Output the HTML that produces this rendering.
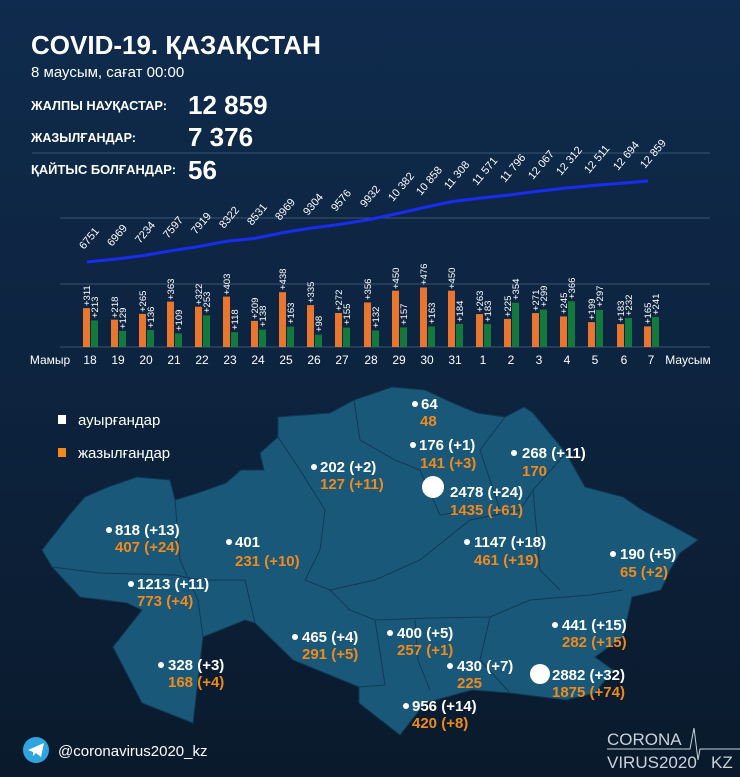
<!DOCTYPE html>
<html><head><meta charset="utf-8"><style>
html,body{margin:0;padding:0;width:740px;height:777px;overflow:hidden;background:#0c1d33;}
svg{display:block;font-family:"Liberation Sans","DejaVu Sans",sans-serif;}
</style></head><body>
<svg width="740" height="777" viewBox="0 0 740 777" xmlns="http://www.w3.org/2000/svg">
<defs>
<linearGradient id="bg" x1="0" y1="0" x2="0" y2="1">
<stop offset="0" stop-color="#0f2b4d"/><stop offset="0.45" stop-color="#0d2440"/><stop offset="1" stop-color="#0a1a2c"/>
</linearGradient>
</defs>
<rect width="740" height="777" fill="url(#bg)"/>
<!-- header -->
<text x="31" y="54" fill="#fff" font-size="26" font-weight="bold">COVID-19. ҚАЗАҚСТАН</text>
<text x="31" y="77" fill="#fff" font-size="15">8 маусым, сағат 00:00</text>
<g fill="#fff" font-size="13" font-weight="bold">
<text x="31" y="110" textLength="136" lengthAdjust="spacingAndGlyphs">ЖАЛПЫ НАУҚАСТАР:</text>
<text x="31" y="142" textLength="105" lengthAdjust="spacingAndGlyphs">ЖАЗЫЛҒАНДАР:</text>
<text x="31" y="174" textLength="145" lengthAdjust="spacingAndGlyphs">ҚАЙТЫС БОЛҒАНДАР:</text>
</g>
<g fill="#fff" font-size="26" font-weight="bold">
<text x="188" y="114">12 859</text>
<text x="188" y="146">7 376</text>
<text x="188" y="179">56</text>
</g>
<!-- grid -->
<g stroke="#3a5573" stroke-width="1">
<line x1="32" y1="153" x2="710" y2="153"/>
<line x1="60" y1="218" x2="710" y2="218"/>
<line x1="60" y1="284" x2="710" y2="284"/>
<line x1="60" y1="347" x2="710" y2="347"/>
</g>
<!-- line -->
<polyline fill="none" stroke="#1a2cf0" stroke-width="3" points="87,262 115,259.1 143,255.6 171,250.8 199,246.5 227,241.2 255,238.4 283,232.6 311,228.1 339,224.5 368,219.8 396,213.9 424,207.5 452,201.6 480,198.1 508,195.1 536,191.5 564,188.3 592,185.6 621,183.2 648,181"/>
<g fill="#fff" font-size="11">
<text transform="translate(84,250) rotate(-50)">6751</text>
<text transform="translate(112,247) rotate(-50)">6969</text>
<text transform="translate(140,244) rotate(-50)">7234</text>
<text transform="translate(168,239) rotate(-50)">7597</text>
<text transform="translate(196,235) rotate(-50)">7919</text>
<text transform="translate(224,229) rotate(-50)">8322</text>
<text transform="translate(252,226) rotate(-50)">8531</text>
<text transform="translate(280,221) rotate(-50)">8969</text>
<text transform="translate(308,216) rotate(-50)">9304</text>
<text transform="translate(336,212) rotate(-50)">9576</text>
<text transform="translate(365,208) rotate(-50)">9932</text>
<text transform="translate(393,202) rotate(-50)">10 382</text>
<text transform="translate(421,196) rotate(-50)">10 858</text>
<text transform="translate(449,190) rotate(-50)">11 308</text>
<text transform="translate(477,186) rotate(-50)">11 571</text>
<text transform="translate(505,183) rotate(-50)">11 796</text>
<text transform="translate(533,180) rotate(-50)">12 067</text>
<text transform="translate(561,176) rotate(-50)">12 312</text>
<text transform="translate(589,174) rotate(-50)">12 511</text>
<text transform="translate(618,171) rotate(-50)">12 694</text>
<text transform="translate(645,169) rotate(-50)">12 859</text>
</g>
<!-- bars -->
<g fill="#e8762f">
<rect x="83" y="308.1" width="7" height="38.9"/>
<rect x="111" y="319.7" width="7" height="27.3"/>
<rect x="139" y="313.9" width="7" height="33.1"/>
<rect x="167" y="301.6" width="7" height="45.4"/>
<rect x="195" y="306.7" width="7" height="40.3"/>
<rect x="223" y="296.6" width="7" height="50.4"/>
<rect x="251" y="320.9" width="7" height="26.1"/>
<rect x="279" y="292.2" width="7" height="54.8"/>
<rect x="307" y="305.1" width="7" height="41.9"/>
<rect x="335" y="313" width="7" height="34"/>
<rect x="364" y="302.5" width="7" height="44.5"/>
<rect x="392" y="290.7" width="7" height="56.3"/>
<rect x="420" y="287.5" width="7" height="59.5"/>
<rect x="448" y="290.7" width="7" height="56.3"/>
<rect x="476" y="314.1" width="7" height="32.9"/>
<rect x="504" y="318.9" width="7" height="28.1"/>
<rect x="532" y="313.1" width="7" height="33.9"/>
<rect x="560" y="316.4" width="7" height="30.6"/>
<rect x="588" y="322.1" width="7" height="24.9"/>
<rect x="617" y="324.1" width="7" height="22.9"/>
<rect x="644" y="326.4" width="7" height="20.6"/>
</g>
<g fill="#137a3f">
<rect x="91" y="320.4" width="7" height="26.6"/>
<rect x="119" y="330.9" width="7" height="16.1"/>
<rect x="147" y="330" width="7" height="17"/>
<rect x="175" y="333.4" width="7" height="13.6"/>
<rect x="203" y="315.4" width="7" height="31.6"/>
<rect x="231" y="332.2" width="7" height="14.8"/>
<rect x="259" y="329.7" width="7" height="17.3"/>
<rect x="287" y="326.6" width="7" height="20.4"/>
<rect x="315" y="334.7" width="7" height="12.3"/>
<rect x="343" y="327.6" width="7" height="19.4"/>
<rect x="372" y="330.5" width="7" height="16.5"/>
<rect x="400" y="327.4" width="7" height="19.6"/>
<rect x="428" y="326.6" width="7" height="20.4"/>
<rect x="456" y="324" width="7" height="23"/>
<rect x="484" y="324.1" width="7" height="22.9"/>
<rect x="512" y="302.7" width="7" height="44.3"/>
<rect x="540" y="309.6" width="7" height="37.4"/>
<rect x="568" y="301.2" width="7" height="45.8"/>
<rect x="596" y="309.9" width="7" height="37.1"/>
<rect x="625" y="318" width="7" height="29"/>
<rect x="652" y="316.9" width="7" height="30.1"/>
</g>
<g fill="#fff" font-size="9.5">
<text transform="translate(90,306) rotate(-90)">+311</text>
<text transform="translate(118,318) rotate(-90)">+218</text>
<text transform="translate(146,312) rotate(-90)">+265</text>
<text transform="translate(174,300) rotate(-90)">+363</text>
<text transform="translate(202,305) rotate(-90)">+322</text>
<text transform="translate(230,295) rotate(-90)">+403</text>
<text transform="translate(258,319) rotate(-90)">+209</text>
<text transform="translate(286,290) rotate(-90)">+438</text>
<text transform="translate(314,303) rotate(-90)">+335</text>
<text transform="translate(342,311) rotate(-90)">+272</text>
<text transform="translate(371,300) rotate(-90)">+356</text>
<text transform="translate(399,289) rotate(-90)">+450</text>
<text transform="translate(427,285) rotate(-90)">+476</text>
<text transform="translate(455,289) rotate(-90)">+450</text>
<text transform="translate(483,312) rotate(-90)">+263</text>
<text transform="translate(511,317) rotate(-90)">+225</text>
<text transform="translate(539,311) rotate(-90)">+271</text>
<text transform="translate(567,314) rotate(-90)">+245</text>
<text transform="translate(595,320) rotate(-90)">+199</text>
<text transform="translate(624,322) rotate(-90)">+183</text>
<text transform="translate(651,324) rotate(-90)">+165</text>
<text transform="translate(98,318) rotate(-90)">+213</text>
<text transform="translate(126,329) rotate(-90)">+129</text>
<text transform="translate(154,328) rotate(-90)">+136</text>
<text transform="translate(182,331) rotate(-90)">+109</text>
<text transform="translate(210,313) rotate(-90)">+253</text>
<text transform="translate(238,330) rotate(-90)">+118</text>
<text transform="translate(266,327) rotate(-90)">+138</text>
<text transform="translate(294,324) rotate(-90)">+163</text>
<text transform="translate(322,332) rotate(-90)">+98</text>
<text transform="translate(350,325) rotate(-90)">+155</text>
<text transform="translate(379,328) rotate(-90)">+132</text>
<text transform="translate(407,325) rotate(-90)">+157</text>
<text transform="translate(435,324) rotate(-90)">+163</text>
<text transform="translate(463,322) rotate(-90)">+184</text>
<text transform="translate(491,322) rotate(-90)">+183</text>
<text transform="translate(519,300) rotate(-90)">+354</text>
<text transform="translate(547,307) rotate(-90)">+299</text>
<text transform="translate(575,299) rotate(-90)">+366</text>
<text transform="translate(603,307) rotate(-90)">+297</text>
<text transform="translate(632,316) rotate(-90)">+232</text>
<text transform="translate(659,315) rotate(-90)">+241</text>
</g>
<g fill="#fff" font-size="12" text-anchor="middle">
<text x="50" y="364">Мамыр</text>
<text x="90" y="364">18</text><text x="118" y="364">19</text><text x="146" y="364">20</text>
<text x="174" y="364">21</text><text x="202" y="364">22</text><text x="230" y="364">23</text>
<text x="258" y="364">24</text><text x="286" y="364">25</text><text x="314" y="364">26</text>
<text x="342" y="364">27</text><text x="371" y="364">28</text><text x="399" y="364">29</text>
<text x="427" y="364">30</text><text x="455" y="364">31</text><text x="483" y="364">1</text>
<text x="511" y="364">2</text><text x="539" y="364">3</text><text x="567" y="364">4</text>
<text x="595" y="364">5</text><text x="624" y="364">6</text><text x="651" y="364">7</text>
<text x="688" y="364">Маусым</text>
</g>
<!-- map -->
<polygon fill="#1a5879" stroke="#0f3853" stroke-width="1" points="42,550 71,513 85,497 108,487 137,477 170,480 175,500 198,493 226,483 241,470 264,470 260,453 278,437 278,417 330,413 354,400 392,387 425,390 453,403 477,413 505,417 524,407 533,413 566,453 585,487 623,497 642,510 680,530 698,540 680,553 670,570 661,590 632,597 623,637 595,657 613,670 595,693 566,700 510,693 472,690 425,703 400,735 359,703 359,687 293,660 255,623 245,620 203,637 193,723 142,703 113,647 142,610 127,603 80,597 52,567"/>
<g fill="none" stroke="#0f3a56" stroke-width="1">
<polyline points="52,567 100,573 175,575 200,580 245,580 255,623"/>
<polyline points="175,500 180,560 198,600 203,637"/>
<polyline points="278,437 300,470 325,510 320,550 305,580 330,590 350,610 375,620 385,685 359,687"/>
<polyline points="330,590 375,580 420,560 470,520 520,510 533,490 566,453"/>
<polyline points="375,620 430,618 490,617 530,600 590,595 623,590"/>
<polyline points="415,620 418,660 430,690"/>
<polyline points="490,617 480,660 510,693"/>
<polyline points="354,400 360,440 395,460 420,470 440,515 470,510"/>
<polyline points="505,417 480,450 500,510"/>
<polyline points="533,490 540,570 560,590"/>
</g>
<!-- legend -->
<rect x="58" y="415" width="8" height="9" fill="#fff"/>
<rect x="58" y="448" width="8" height="9" fill="#f08a1c"/>
<text x="78" y="425" fill="#fff" font-size="15">ауырғандар</text>
<text x="78" y="458" fill="#fff" font-size="15">жазылғандар</text>
<!-- dots -->
<g fill="#fff">
<circle cx="415" cy="404" r="3"/><circle cx="413" cy="445" r="3"/><circle cx="514" cy="453" r="3"/>
<circle cx="314" cy="467" r="3"/><circle cx="433" cy="487" r="11"/><circle cx="109" cy="530" r="3"/>
<circle cx="229" cy="542" r="3"/><circle cx="467" cy="542" r="3"/><circle cx="613" cy="554" r="3"/>
<circle cx="131" cy="584" r="3"/><circle cx="555" cy="625" r="3"/><circle cx="295" cy="637" r="3"/>
<circle cx="390" cy="633" r="3"/><circle cx="161" cy="665" r="3"/><circle cx="450" cy="666" r="3"/>
<circle cx="540" cy="674" r="10"/><circle cx="406" cy="706" r="3"/>
</g>
<g font-size="15" font-weight="bold" fill="#fff">
<text x="421" y="409">64</text>
<text x="419" y="450">176 (+1)</text>
<text x="522" y="458">268 (+11)</text>
<text x="320" y="472">202 (+2)</text>
<text x="450" y="497">2478 (+24)</text>
<text x="115" y="535">818 (+13)</text>
<text x="235" y="547">401</text>
<text x="474" y="547">1147 (+18)</text>
<text x="620" y="559">190 (+5)</text>
<text x="137" y="589">1213 (+11)</text>
<text x="562" y="630">441 (+15)</text>
<text x="302" y="642">465 (+4)</text>
<text x="397" y="638">400 (+5)</text>
<text x="168" y="670">328 (+3)</text>
<text x="457" y="671">430 (+7)</text>
<text x="552" y="680">2882 (+32)</text>
<text x="412" y="711">956 (+14)</text>
</g>
<g font-size="15" font-weight="bold" fill="#f08a1c">
<text x="420" y="426">48</text>
<text x="420" y="468">141 (+3)</text>
<text x="522" y="476">170</text>
<text x="320" y="489">127 (+11)</text>
<text x="450" y="515">1435 (+61)</text>
<text x="115" y="552">407 (+24)</text>
<text x="235" y="566">231 (+10)</text>
<text x="474" y="565">461 (+19)</text>
<text x="620" y="577">65 (+2)</text>
<text x="137" y="606">773 (+4)</text>
<text x="562" y="647">282 (+15)</text>
<text x="302" y="659">291 (+5)</text>
<text x="397" y="655">257 (+1)</text>
<text x="168" y="687">168 (+4)</text>
<text x="457" y="688">225</text>
<text x="552" y="697">1875 (+74)</text>
<text x="412" y="728">420 (+8)</text>
</g>
<!-- footer -->
<circle cx="36" cy="750" r="13" fill="#2ea5e0"/>
<polygon points="28,750 44,743 41,757 36,753 33,756 33,752" fill="#fff"/>
<text x="58" y="756" fill="#fff" font-size="15">@coronavirus2020_kz</text>
<g fill="#c9d1da" font-size="17">
<text x="607" y="745">CORONA</text>
<text x="607" y="768">VIRUS2020</text>
<text x="711" y="768">KZ</text>
</g>
<polyline points="607,749 690,749 694,728 698,760 700,749 740,749" fill="none" stroke="#c9d1da" stroke-width="1"/>
</svg>
</body></html>
